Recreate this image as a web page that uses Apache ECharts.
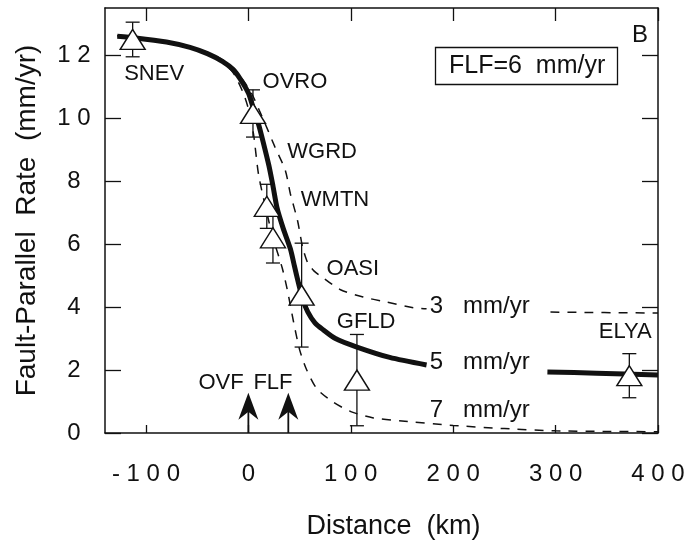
<!DOCTYPE html>
<html>
<head>
<meta charset="utf-8">
<title>Fault-parallel rate profile</title>
<script src="https://cdn.jsdelivr.net/npm/echarts@6/dist/echarts.min.js"></script>
<style>
html, body { margin: 0; padding: 0; background: #fff; }
#chart { width: 690px; height: 545px; }
</style>
</head>
<body>
<div id="chart"></div>
<script>
// axis ticks
const distTicks = [-100, 0, 100, 200, 300, 400];
const rateTicks = [0, 2, 4, 6, 8, 10, 12];

// GPS stations: distance (km), fault-parallel rate (mm/yr), error bar half-length
const stationNames = ['SNEV', 'OVRO', 'WGRD', 'WMTN', 'OASI', 'GFLD', 'ELYA'];
const stationDist = [-113, 4.5, 18, 24, 52, 106, 372];
const stationRate = [12.5, 10.15, 7.2, 6.2, 4.38, 1.68, 1.82];
const stationErr = [0.55, 0.75, 0.7, 0.8, 1.65, 1.45, 0.7];
// where the station names are written
const stationLabelAt = [[-92, 11.4], [45.5, 11.14], [72, 8.92], [84.6, 7.4], [102, 5.2], [115, 3.52], [368, 3.2]];

// model curves [distance, rate]; null = gap left for the curve's label
const model5 = [[-128, 12.6], [-110, 12.55], [-80, 12.42], [-57, 12.25], [-40, 12.05], [-25, 11.8],
  [-15, 11.55], [-8, 11.25], [0, 10.8], [5, 10.3], [10, 9.8], [14, 9.3], [20, 8.5], [24, 7.85],
  [28, 7.15], [34, 6.5], [41, 5.85], [45, 5.3], [49, 4.75], [53, 4.25], [58, 3.85], [65, 3.5],
  [73, 3.28], [85, 3.0], [106, 2.73], [138, 2.4], [174, 2.16], [240, null], [292, 1.94],
  [340, 1.9], [400, 1.84]];
const model3 = [[-128, 12.62], [-80, 12.45], [-50, 12.2], [-30, 11.95], [-15, 11.6], [-5, 11.2],
  [3, 10.8], [10, 10.3], [18, 9.7], [26, 9.08], [36, 8.35], [41, 7.6], [48, 6.75], [53, 5.9],
  [58, 5.4], [64, 5.15], [70, 5.0], [90, 4.55], [112, 4.32], [135, 4.16], [161, 3.98], [174, 3.95],
  [240, null], [295, 3.84], [400, 3.81]];
const model7 = [[-128, 12.62], [-80, 12.45], [-50, 12.2], [-30, 11.9], [-15, 11.45], [-5, 10.8],
  [0, 10.3], [5, 9.5], [10, 8.2], [18, 7.0], [24, 6.2], [33, 5.25], [38, 4.55], [44, 3.55],
  [50, 2.65], [57, 2.0], [67, 1.4], [83, 0.98], [100, 0.68], [122, 0.48], [150, 0.38], [200, 0.24],
  [250, 0.14], [300, 0.07], [350, 0.05], [400, 0.04]];
const curveNames = ['3   mm/yr', '5   mm/yr', '7   mm/yr'];
const curveLabelAt = [[177, 4.03], [177, 2.25], [177, 0.73]];

// faults marked with arrows on the distance axis
const faultNames = ['OVF', 'FLF'];
const faultDist = [0, 39];
const faultLabelAt = [[-26.7, 1.59], [24, 1.59]];
const arrowTop = 1.28;

const FONT = '"Liberation Sans", Arial, Helvetica, sans-serif';
const INK = '#111';

const spaced = v => String(v).split('').join(' ');

const chart = echarts.init(document.getElementById('chart'));

// text drawn at data coordinates
function textSeries(names, pos, size, align) {
  return {
    type: 'custom',
    z: 6,
    silent: true,
    data: pos,
    renderItem(params, api) {
      const p = api.coord([api.value(0), api.value(1)]);
      return {
        type: 'text',
        x: p[0],
        y: p[1],
        style: {
          text: names[params.dataIndex],
          fill: INK,
          fontSize: size,
          fontFamily: FONT,
          align: align,
          verticalAlign: 'middle'
        }
      };
    }
  };
}

const axisLine = { onZero: false, lineStyle: { color: INK, width: 1.5 } };
const tickStyle = { color: INK, width: 1.3 };

const option = {
  animation: false,
  backgroundColor: '#fff',
  title: [
    {
      text: 'FLF=6  mm/yr',
      left: 435,
      top: 47,
      padding: [7, 12, 6, 14],
      borderColor: INK,
      borderWidth: 1.3,
      textStyle: { fontSize: 25, fontWeight: 'normal', fontFamily: FONT, color: INK }
    },
    {
      text: 'B',
      left: 632,
      top: 23,
      padding: 0,
      textStyle: { fontSize: 24, fontWeight: 'normal', fontFamily: FONT, color: INK }
    }
  ],
  grid: { left: 105, right: 32, top: 8, bottom: 111 },
  xAxis: [
    {
      type: 'value',
      min: -140,
      max: 400,
      name: 'Distance  (km)',
      nameLocation: 'middle',
      nameGap: 80,
      nameTextStyle: { fontSize: 27, fontFamily: FONT, color: INK, padding: [0, 0, 0, 24] },
      splitLine: { show: false },
      axisLine: axisLine,
      axisTick: { inside: true, length: 8, customValues: distTicks, lineStyle: tickStyle },
      axisLabel: {
        customValues: distTicks,
        formatter: spaced,
        margin: 29,
        fontSize: 24,
        fontFamily: FONT,
        color: INK
      }
    },
    {
      type: 'value',
      position: 'top',
      min: -140,
      max: 400,
      splitLine: { show: false },
      axisLine: axisLine,
      axisTick: { inside: true, length: 13, customValues: distTicks, lineStyle: tickStyle },
      axisLabel: { show: false }
    }
  ],
  yAxis: [
    {
      type: 'value',
      position: 'left',
      min: 0,
      max: 13.5,
      name: 'Fault-Parallel  Rate  (mm/yr)',
      nameLocation: 'middle',
      nameGap: 64,
      nameTextStyle: { fontSize: 28, fontFamily: FONT, color: INK },
      splitLine: { show: false },
      axisLine: axisLine,
      axisTick: { inside: true, length: 16, customValues: rateTicks, lineStyle: tickStyle },
      axisLabel: {
        customValues: rateTicks,
        formatter: spaced,
        align: 'center',
        margin: 31,
        fontSize: 24,
        fontFamily: FONT,
        color: INK
      }
    },
    {
      type: 'value',
      position: 'right',
      min: 0,
      max: 13.5,
      splitLine: { show: false },
      axisLine: axisLine,
      axisTick: { inside: true, length: 16, customValues: rateTicks, lineStyle: tickStyle },
      axisLabel: { show: false }
    }
  ],
  series: [
    {
      name: '3 mm/yr',
      type: 'line',
      z: 2,
      data: model3,
      smooth: 0.25,
      showSymbol: false,
      lineStyle: { color: INK, width: 1.5, type: [9, 8] }
    },
    {
      name: '7 mm/yr',
      type: 'line',
      z: 2,
      data: model7,
      smooth: 0.25,
      showSymbol: false,
      lineStyle: { color: INK, width: 1.5, type: [9, 8] }
    },
    {
      name: '5 mm/yr',
      type: 'line',
      z: 3,
      data: model5,
      smooth: 0.25,
      showSymbol: false,
      lineStyle: { color: INK, width: 5 }
    },
    {
      // error bars
      type: 'custom',
      z: 4,
      silent: true,
      data: stationDist.map((d, i) => [d, stationRate[i] - stationErr[i], stationRate[i] + stationErr[i]]),
      renderItem(params, api) {
        const lo = api.coord([api.value(0), api.value(1)]);
        const hi = api.coord([api.value(0), api.value(2)]);
        const half = 7;
        const style = { stroke: INK, lineWidth: 1.3 };
        return {
          type: 'group',
          children: [
            { type: 'line', shape: { x1: lo[0], y1: lo[1], x2: hi[0], y2: hi[1] }, style },
            { type: 'line', shape: { x1: lo[0] - half, y1: lo[1], x2: lo[0] + half, y2: lo[1] }, style },
            { type: 'line', shape: { x1: hi[0] - half, y1: hi[1], x2: hi[0] + half, y2: hi[1] }, style }
          ]
        };
      }
    },
    {
      name: 'GPS',
      type: 'scatter',
      z: 5,
      symbol: 'triangle',
      symbolSize: [25, 20],
      data: stationDist.map((d, i) => [d, stationRate[i]]),
      itemStyle: { color: '#fff', opacity: 1, borderColor: INK, borderWidth: 1.4 }
    },
    {
      // fault arrows
      type: 'custom',
      z: 5,
      silent: true,
      data: faultDist.map(d => [d, 0, arrowTop]),
      renderItem(params, api) {
        const base = api.coord([api.value(0), api.value(1)]);
        const tip = api.coord([api.value(0), api.value(2)]);
        return {
          type: 'group',
          children: [
            {
              type: 'line',
              shape: { x1: base[0], y1: base[1], x2: tip[0], y2: tip[1] + 18 },
              style: { stroke: INK, lineWidth: 1.8 }
            },
            {
              type: 'polygon',
              shape: {
                points: [
                  [tip[0], tip[1]],
                  [tip[0] + 10, tip[1] + 27],
                  [tip[0], tip[1] + 19],
                  [tip[0] - 10, tip[1] + 27]
                ]
              },
              style: { fill: INK }
            }
          ]
        };
      }
    },
    textSeries(stationNames, stationLabelAt, 22, 'center'),
    textSeries(curveNames, curveLabelAt, 24, 'left'),
    textSeries(faultNames, faultLabelAt, 22, 'center')
  ]
};

chart.setOption(option);
</script>
</body>
</html>
